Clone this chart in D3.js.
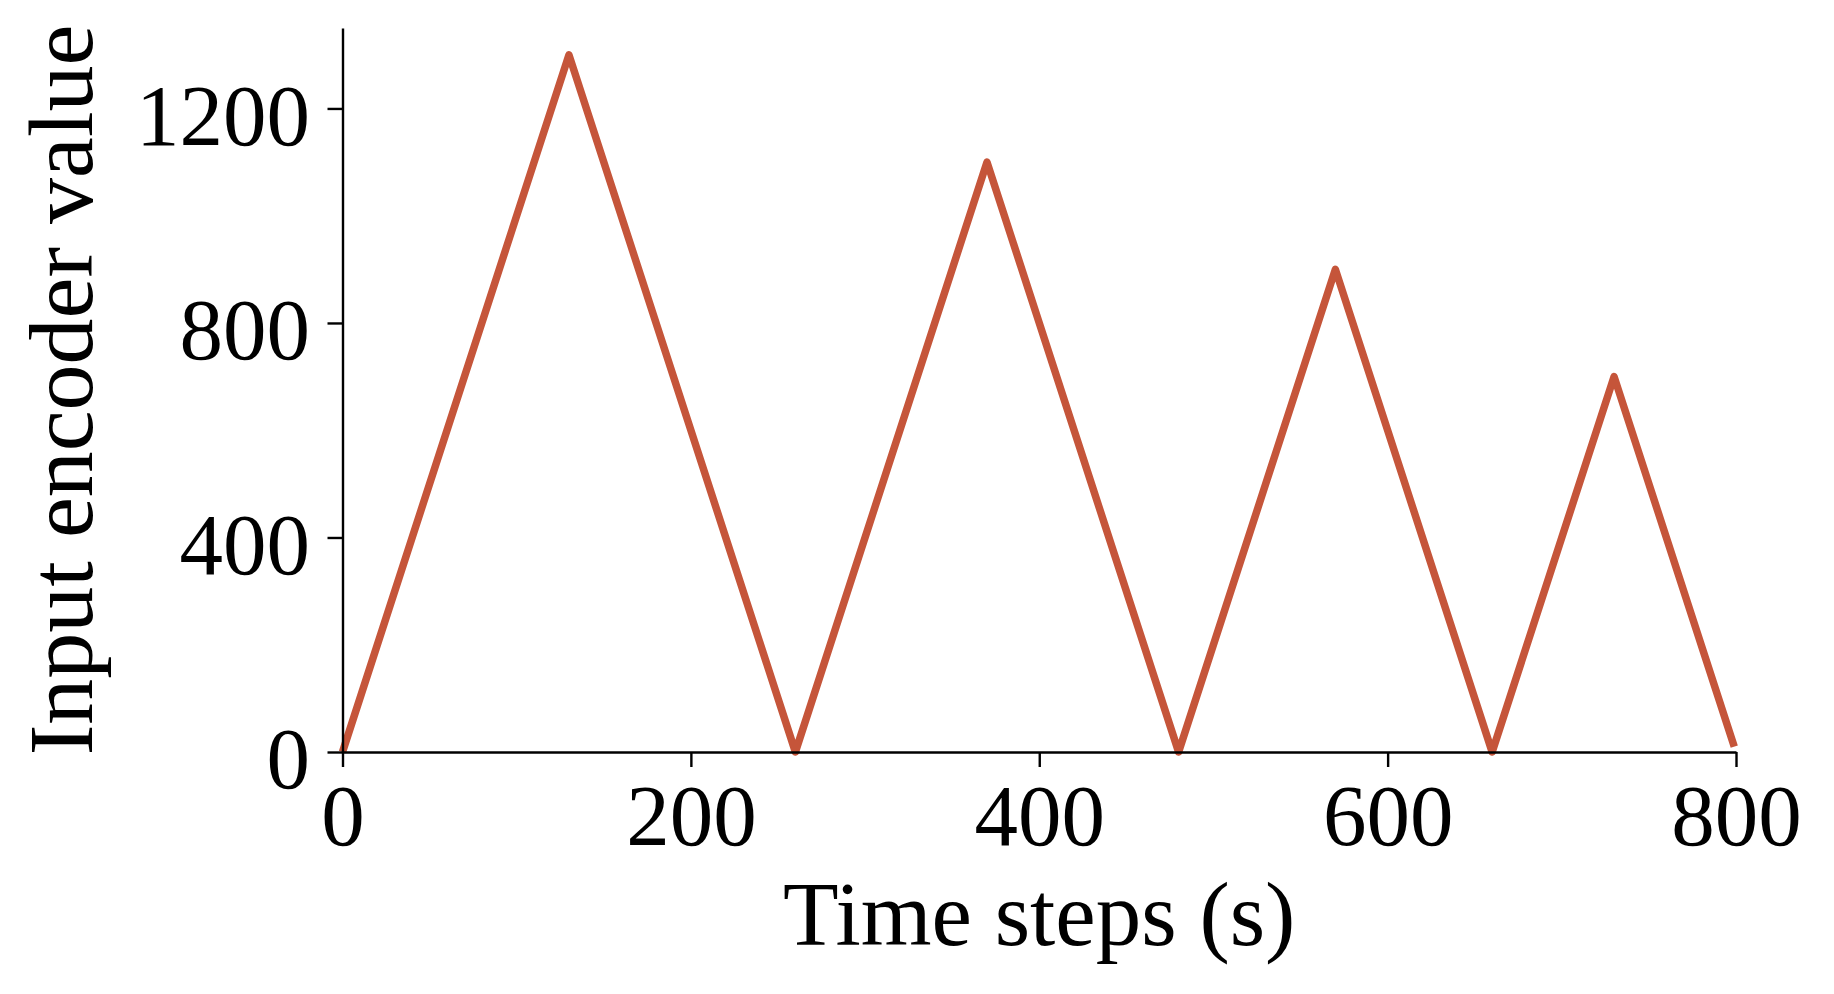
<!DOCTYPE html>
<html>
<head>
<meta charset="utf-8">
<script src="https://cdn.jsdelivr.net/npm/d3@7"></script>
<style>
  html, body { margin: 0; padding: 0; background: #fff; }
  svg { display: block; }
</style>
</head>
<body>
<svg id="chart" width="1834" height="994"></svg>
<script>
// values
var timeSteps = [0, 130, 260, 370, 480, 570, 660, 730, 799]
var encoderValues = [0, 1300, 0, 1100, 0, 900, 0, 700, 10]
var xTicks = [0, 200, 400, 600, 800]
var yTicks = [0, 400, 800, 1200]

var data = timeSteps.map((t, i) => ({t: t, v: encoderValues[i]}))

var svg = d3.select('#chart')
var margin = ({top: 28, right: 98, bottom: 242, left: 342.5})
var width = 1834, height = 994

var x = d3.scaleLinear()
    .domain([0, 800])
    .range([margin.left, width - margin.right])

var y = d3.scaleLinear()
    .domain([0, 1350])
    .range([height - margin.bottom, margin.top])

var font = '"Liberation Serif", "Times New Roman", Times, serif'

// line
svg.append('path')
    .datum(data)
    .attr('fill', 'none')
    .attr('stroke', '#c5553a')
    .attr('stroke-width', 7.5)
    .attr('stroke-linejoin', 'round')
    .attr('d', d3.line().x(d => x(d.t)).y(d => y(d.v)))

var xAxis = g => g
    .attr('transform', `translate(0,${y(0)})`)
    .call(d3.axisBottom(x).tickValues(xTicks).tickFormat(d3.format('d'))
        .tickSizeInner(15).tickSizeOuter(0).tickPadding(16))

var yAxis = g => g
    .attr('transform', `translate(${x(0)},0)`)
    .call(d3.axisLeft(y).tickValues(yTicks).tickFormat(d3.format('d'))
        .tickSizeInner(15).tickSizeOuter(0).tickPadding(17.5))

svg.append('g').call(xAxis)
svg.append('g').call(yAxis).selectAll('text').attr('dy', '0.41em')

svg.selectAll('.domain, .tick line')
    .attr('stroke', '#000')
    .attr('stroke-width', 2.4)

svg.selectAll('.tick text')
    .attr('fill', '#000')
    .attr('font-family', font)
    .attr('font-size', '87px')

// axis titles
svg.append('text')
    .attr('x', (x(0) + x(800)) / 2)
    .attr('y', 945)
    .attr('text-anchor', 'middle')
    .attr('font-family', font)
    .attr('font-size', '91px')
    .attr('fill', '#000')
    .text('Time steps (s)')

svg.append('text')
    .attr('transform', `translate(92,${(y(0) + y(1350)) / 2}) rotate(-90)`)
    .attr('text-anchor', 'middle')
    .attr('font-family', font)
    .attr('font-size', '92px')
    .attr('fill', '#000')
    .text('Input encoder value')
</script>
</body>
</html>
